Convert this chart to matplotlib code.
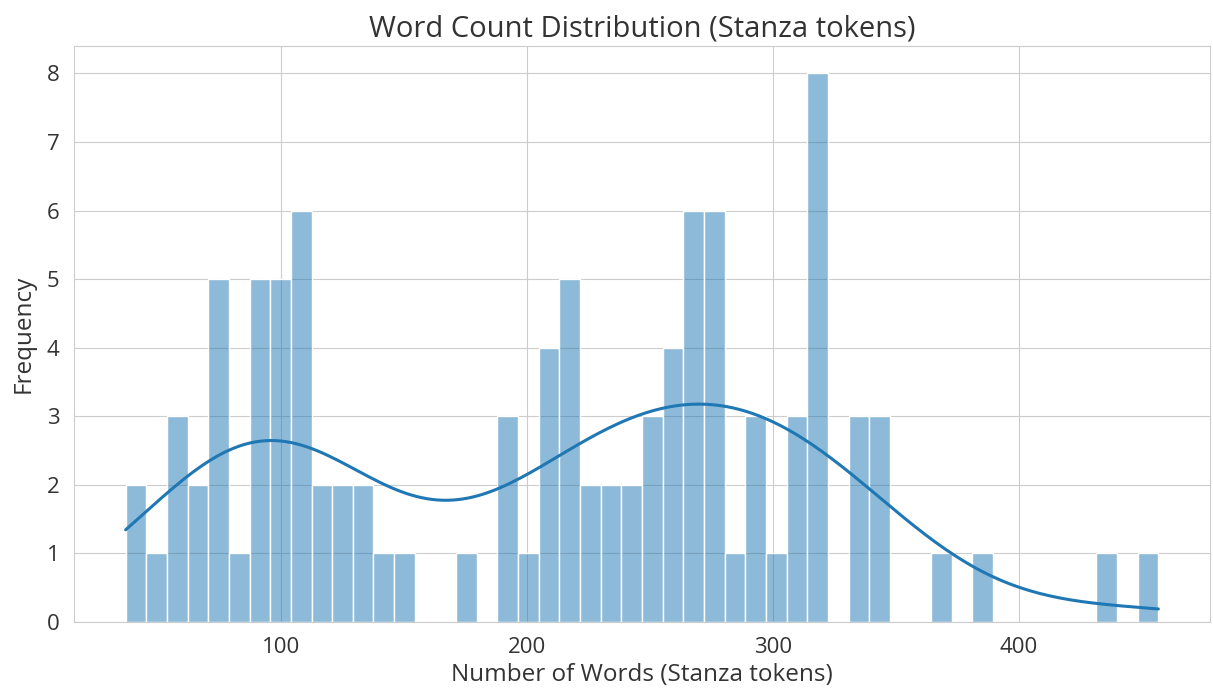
## word count histogram (stanza tokens) with kde overlay
import numpy as np
import matplotlib
matplotlib.use('Agg')
import matplotlib.pyplot as plt
import seaborn as sns

## ------------ values -----------------------------------------
n_bins = 50
word_min = 36.6      ## left edge of first bar
word_max = 456.9     ## right edge of last bar
bin_counts = [
    2, 1, 3, 2, 5, 1, 5, 5, 6, 2,
    2, 2, 1, 1, 0, 0, 1, 0, 3, 1,
    4, 5, 2, 2, 2, 3, 4, 6, 6, 1,
    3, 1, 3, 8, 0, 3, 3, 0, 0, 1,
    0, 1, 0, 0, 0, 0, 0, 1, 0, 1,
]
title_str = 'Word Count Distribution (Stanza tokens)'
xlabel_str = 'Number of Words (Stanza tokens)'
ylabel_str = 'Frequency'
## -------------------------------------------------------------

## rebuild a sample: one point per counted word-count, at its bin centre,
## with the extreme values sitting on the outer edges
edges = np.linspace(word_min, word_max, n_bins + 1)
centres = (edges[:-1] + edges[1:]) / 2
word_counts = np.repeat(centres, bin_counts)
word_counts[0] = word_min
word_counts[-1] = word_max

sns.set_style('whitegrid')
plt.rcParams['font.family'] = ['Open Sans', 'DejaVu Sans']

fig = plt.figure(figsize=(12.13, 6.95), dpi=100)
ax = fig.add_axes([74/1213, 73/695, 1136/1213, 576/695])

sns.histplot(word_counts, bins=n_bins, kde=True, ax=ax,
             line_kws={'linewidth': 2.2})

ax.set_title(title_str, fontsize=21, pad=7, color='#333333')
ax.set_xlabel(xlabel_str, fontsize=17.5, labelpad=4, color='#333333')
ax.set_ylabel(ylabel_str, fontsize=17.5, labelpad=8, color='#333333')
ax.tick_params(axis='both', labelsize=16, labelcolor='#333333', pad=7)

fig.savefig('out.png', dpi=100)
